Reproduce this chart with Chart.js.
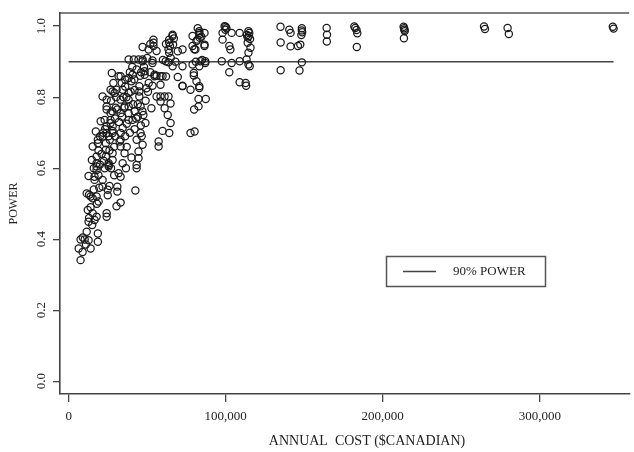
<!DOCTYPE html>
<html lang="en">
<head>
<meta charset="UTF-8">
<title>Power vs annual cost</title>
<script src="https://cdn.jsdelivr.net/npm/chart.js@4.4.1/dist/chart.umd.min.js"></script>
<style>
  html, body { margin: 0; padding: 0; background: #fff; }
  #wrap { width: 634px; height: 452px; }
</style>
</head>
<body>
<div id="wrap"><canvas id="powerChart" width="634" height="452"></canvas></div>
<script>
// annual cost in thousands of Canadian dollars, one entry per design
const costK = [
  346.5, 347, 279.5, 280.3, 264.5, 265.1, 213.3, 213.6, 213.8, 214, 213.5, 181.9, 182.5, 183.3, 183.8, 183.5, 164.3, 164.5, 164.4,
  148.5, 148.5, 148.7, 148.2, 147.5, 146, 148.5, 147, 140.5, 141.3, 141.3, 134.9, 135, 135,
  99.3, 100, 100.5, 99.8, 98, 98, 97.5, 103.8, 102.3, 103, 102.3, 103.8, 108.9, 108.9, 108.9, 112.7, 113, 114.5, 115, 114.8, 115.5, 114, 115.8, 114.5, 113.3, 114.5, 115.3, 113.5, 114,
  82.2, 83.2, 83.2, 83.2, 83.5, 81.4, 78.9, 78.9, 80.7, 86.5, 86.5, 86.5, 87, 87, 83.2, 78.9, 79.7, 79.7, 81.4, 83.2, 83.2, 82.7, 87.3, 82.7, 79.9, 77.6, 80.2, 77.6, 72.5, 84, 85, 80, 82, 84.5, 81,
  66.2, 66.2, 64, 64, 64.5, 63.6, 64, 69.5, 72.5, 61.8, 63.6, 66.2, 72.5, 69.5, 72.5, 63.6, 61.1, 64.9, 61.1, 63.1, 64.9, 59.8, 64.1, 57.3, 57.3, 58.5, 58.5, 59.8, 62, 65, 67, 62, 60, 66.5, 68,
  54, 54, 54, 47.1, 50.9, 53.4, 53.4, 47.1, 47.1, 48.4, 48.4, 54.7, 54.7, 53.4, 56, 58.5, 58.5, 52.7, 45.8, 47.6, 48.9, 45, 45, 45, 45.8, 43.3, 47.1, 44.5, 44.5, 43.3, 43.3, 42.5, 56, 50, 52, 56, 49, 51, 46, 47, 44, 46.5,
  38.2, 41.5, 44.5, 43.3, 40.7, 38.2, 33.1, 36.1, 30.5, 34.4, 38.2, 33.1, 35.6, 33.1, 38.2, 38.2, 38.2, 38.2, 40.7, 34.4, 33.1, 33.1, 33.1, 35.6, 34.4, 31.8, 33.1, 31, 31, 33.1, 30.5, 41, 42, 40, 36, 39, 37, 42, 40, 36.5, 32, 35, 42, 44, 40.5, 36, 39,
  27.5, 31.8, 26.7, 28, 29.3, 21.6, 24.2, 24.2, 24.2, 26.7, 26.7, 26.7, 22.9, 20.4, 24.2, 24.2, 28, 28, 28, 21.6, 23.7, 23.7, 23.7, 25.5, 25.5, 25.5, 28, 28, 21.6, 21.6, 24.9, 24.9, 24.2, 24.2, 29, 30, 27, 22, 29.5, 26, 27, 29, 23, 26, 22.5, 28.5,
  17.3, 15.3, 18.6, 18.6, 14.8, 17.8, 17.8, 17.8, 17.8, 16.5, 16.5, 12.7, 11.5, 14, 15.3, 17.8, 19.1, 12.2, 15.3, 17.8, 12.7, 16.5, 11.5, 18.6, 18.6, 7.6, 10.2, 12.7, 6.4, 8.9, 14, 7.6, 13, 16, 19.5, 14, 18, 13, 15, 9, 11, 19, 20, 16, 19,
  31, 34, 37, 29.5, 32.5, 35.5, 39.5, 43, 45.5, 48, 50.5, 52, 25.5, 27.8, 30.2, 33.8, 36.8, 41.8, 46.2, 49.5, 21, 23.2, 26.2, 20
];
const power = [
  .998, .993, .995, .978, .999, .992, .998, .994, .990, .986, .966, .999, .995, .989, .980, .941, .995, .976, .957,
  .994, .988, .983, .975, .948, .944, .898, .875, .990, .981, .943, .998, .954, .876,
  1.0, .998, .994, .990, .981, .962, .901, .981, .944, .934, .870, .896, .981, .901, .842, .840, .832, .986, .981, .972, .964, .953, .939, .925, .906, .892, .887, .975, .968,
  .994, .986, .981, .976, .967, .958, .972, .944, .934, .981, .948, .944, .901, .896, .887, .892, .868, .861, .845, .831, .826, .795, .795, .774, .765, .699, .703, .821, .831, .901, .905, .935, .962, .970, .900,
  .976, .972, .962, .953, .944, .934, .925, .929, .934, .901, .898, .887, .887, .857, .832, .802, .802, .782, .769, .750, .727, .705, .699, .675, .661, .859, .835, .859, .858, .910, .965, .950, .905, .948, .900,
  .962, .953, .944, .941, .934, .903, .896, .906, .901, .873, .863, .863, .859, .832, .802, .802, .788, .769, .774, .750, .727, .831, .816, .802, .699, .680, .666, .647, .628, .609, .600, .537, .860, .910, .950, .930, .790, .840, .720, .760, .745, .690,
  .906, .906, .906, .878, .863, .854, .859, .849, .821, .821, .812, .793, .774, .755, .793, .774, .755, .736, .736, .713, .699, .680, .661, .642, .614, .586, .576, .548, .534, .503, .493, .780, .820, .845, .690, .700, .660, .710, .630, .600, .730, .800, .760, .780, .885, .830, .870,
  .868, .859, .821, .816, .812, .802, .793, .774, .765, .755, .736, .727, .736, .732, .718, .699, .718, .705, .699, .689, .670, .652, .633, .614, .609, .605, .642, .623, .567, .548, .539, .524, .473, .463, .660, .770, .790, .700, .740, .650, .600, .580, .600, .550, .620, .840,
  .703, .661, .670, .680, .623, .633, .614, .605, .595, .576, .567, .578, .529, .520, .515, .520, .506, .482, .473, .463, .449, .454, .421, .416, .393, .399, .399, .397, .374, .364, .374, .341, .525, .540, .545, .490, .500, .460, .440, .405, .385, .650, .690, .600, .580,
  .765, .745, .725, .690, .675, .770, .815, .740, .860, .885, .815, .870, .690, .760, .800, .840, .800, .850, .870, .825, .640, .710, .680, .610
];

const targetPower = 0.9;
const targetSpan = [0, 347000];
const xTicks = [0, 100000, 200000, 300000];
const yTicks = [0, 0.2, 0.4, 0.6, 0.8, 1.0];
const legendLabel = '90% POWER';
const xTitle = 'ANNUAL  COST ($CANADIAN)';
const yTitle = 'POWER';

const serif = "'Liberation Serif', 'DejaVu Serif', serif";
const ink = '#222';
const axisGrey = '#444';

const points = costK.map((c, i) => ({ x: c * 1000, y: power[i] }));

// R-style extras: rotated y labels, titles, top frame, boxed legend
const decorations = {
  id: 'decorations',
  afterDraw(chart) {
    const { ctx, chartArea, scales } = chart;
    ctx.save();

    ctx.strokeStyle = '#555';
    ctx.lineWidth = 1.6;
    ctx.beginPath();
    ctx.moveTo(chartArea.left, chartArea.top);
    ctx.lineTo(chartArea.right, chartArea.top);
    ctx.stroke();

    ctx.fillStyle = ink;
    ctx.font = '13px ' + serif;
    ctx.textAlign = 'center';
    ctx.textBaseline = 'middle';
    yTicks.forEach(v => {
      const y = scales.y.getPixelForValue(v);
      ctx.save();
      ctx.translate(41.5, y);
      ctx.rotate(-Math.PI / 2);
      ctx.fillText(v.toFixed(1), 0, 0);
      ctx.restore();
    });

    ctx.font = '12px ' + serif;
    ctx.save();
    ctx.translate(14, (chartArea.top + chartArea.bottom) / 2);
    ctx.rotate(-Math.PI / 2);
    ctx.fillText(yTitle, 0, 0);
    ctx.restore();

    ctx.font = '14px ' + serif;
    ctx.fillText(xTitle, 367, 441);

    // legend
    ctx.strokeStyle = '#555';
    ctx.lineWidth = 1.5;
    ctx.strokeRect(386.5, 256.5, 159, 30);
    ctx.strokeStyle = axisGrey;
    ctx.beginPath();
    ctx.moveTo(403, 271.5);
    ctx.lineTo(436, 271.5);
    ctx.stroke();
    ctx.textAlign = 'left';
    ctx.font = '13px ' + serif;
    ctx.fillText(legendLabel, 453, 272);

    ctx.restore();
  }
};

new Chart(document.getElementById('powerChart'), {
  type: 'scatter',
  data: {
    datasets: [
      {
        label: 'designs',
        data: points,
        pointRadius: 3.6,
        pointHoverRadius: 3.6,
        borderColor: '#1a1a1a',
        backgroundColor: 'rgba(0,0,0,0)',
        borderWidth: 1.25
      },
      {
        label: legendLabel,
        data: targetSpan.map(x => ({ x, y: targetPower })),
        showLine: true,
        borderColor: axisGrey,
        borderWidth: 1.5,
        pointRadius: 0
      }
    ]
  },
  options: {
    responsive: false,
    animation: false,
    devicePixelRatio: 1,
    layout: { padding: { top: 13, right: 0, left: 0, bottom: 0 } },
    plugins: {
      legend: { display: false },
      tooltip: { enabled: false }
    },
    scales: {
      x: {
        type: 'linear',
        min: -5500,
        max: 356900,
        afterBuildTicks: s => { s.ticks = xTicks.map(v => ({ value: v })); },
        afterFit: s => { s.height = 58; },
        grid: { drawOnChartArea: false, drawTicks: true, tickLength: 8, color: axisGrey, lineWidth: 1.3 },
        border: { color: axisGrey, width: 1.6 },
        ticks: {
          font: { family: serif, size: 13 },
          color: ink,
          padding: 7,
          maxRotation: 0,
          callback: v => v.toLocaleString('en-US')
        }
      },
      y: {
        type: 'linear',
        min: -0.036,
        max: 1.037,
        afterBuildTicks: s => { s.ticks = yTicks.map(v => ({ value: v })); },
        afterFit: s => { s.width = 60; },
        grid: { drawOnChartArea: false, drawTicks: true, tickLength: 7, color: axisGrey, lineWidth: 1.3 },
        border: { color: axisGrey, width: 1.6 },
        ticks: { display: false }
      }
    }
  },
  plugins: [decorations]
});
</script>
</body>
</html>
